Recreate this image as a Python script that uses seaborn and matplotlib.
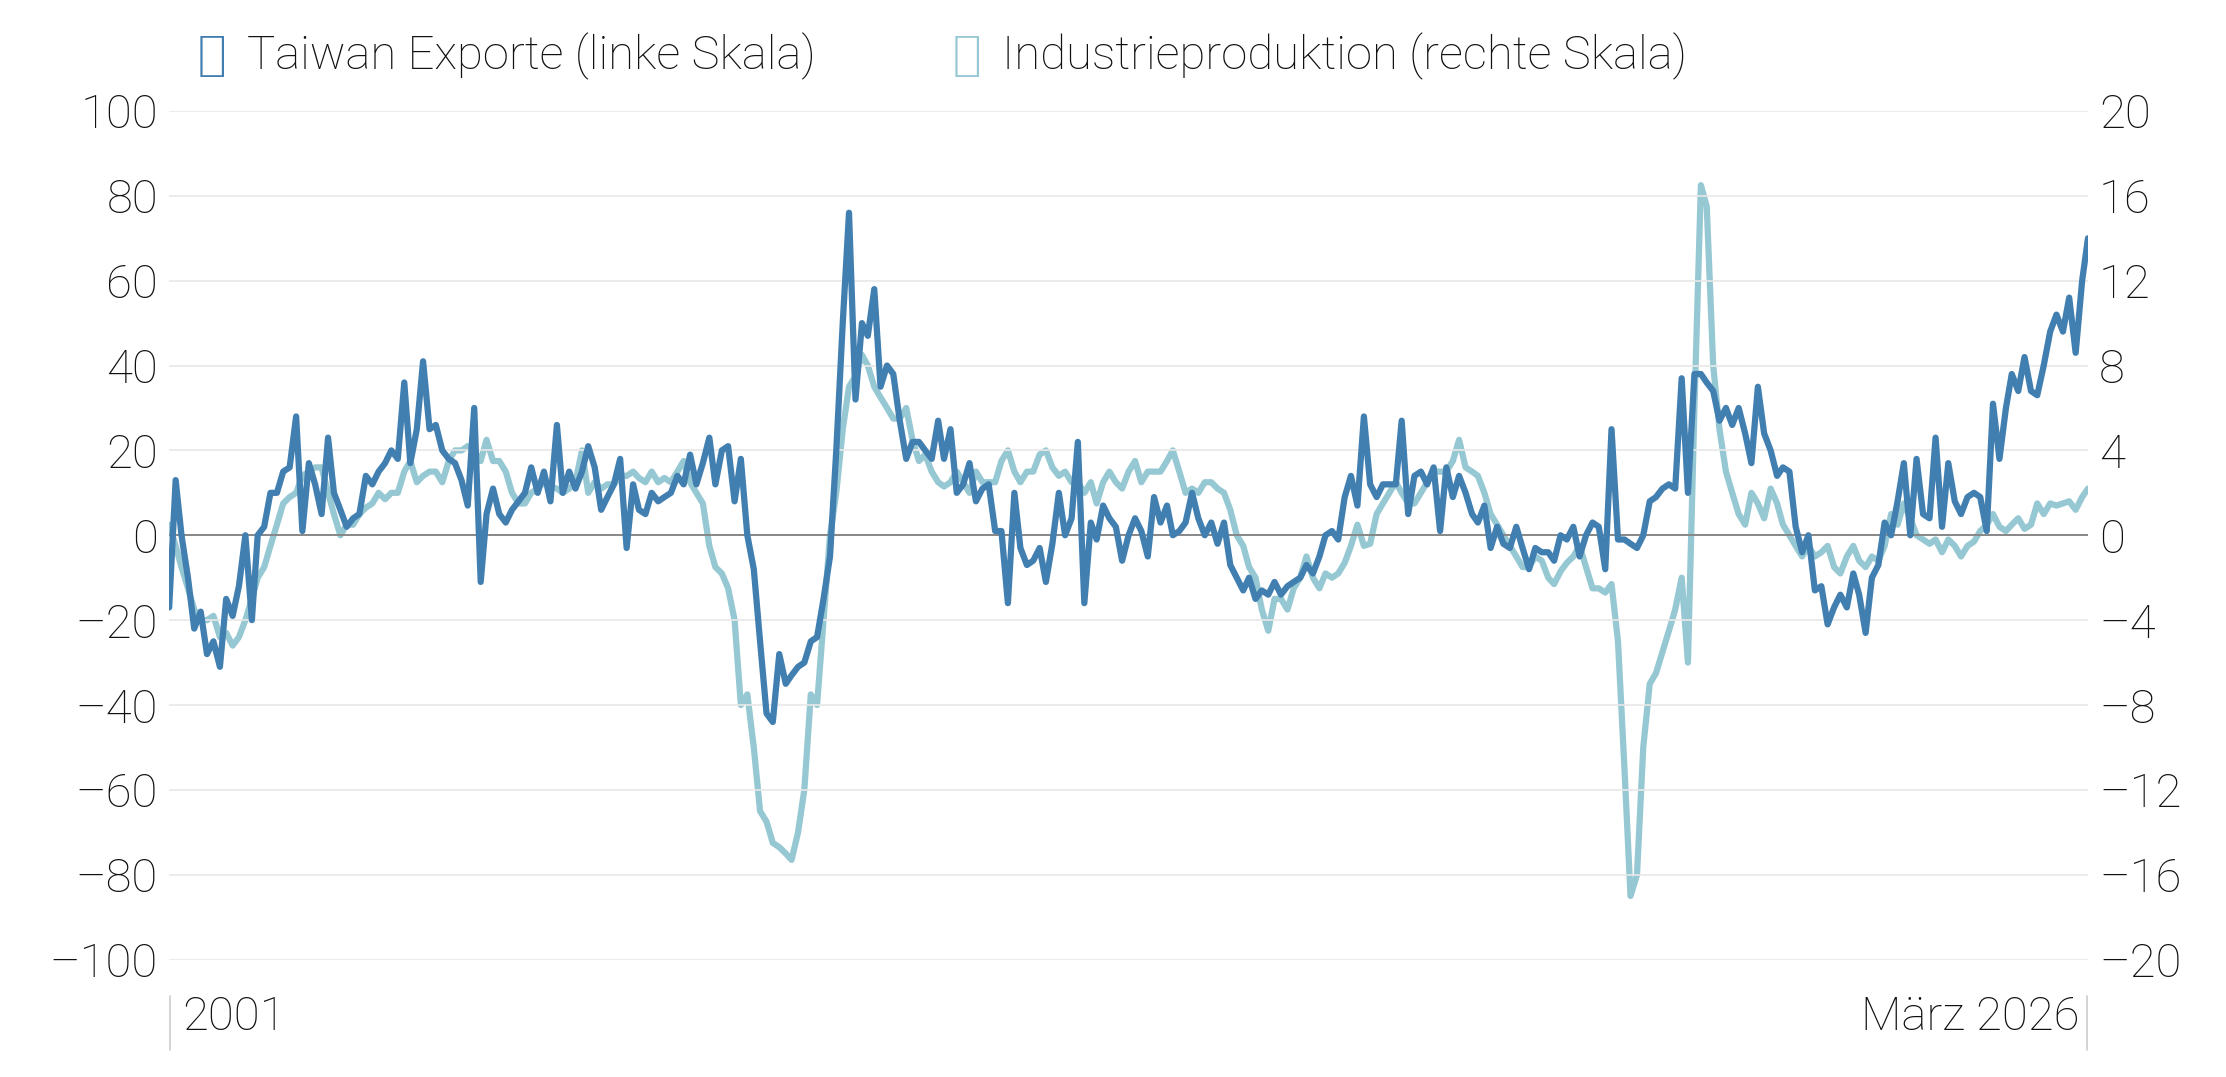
import numpy as np
import pandas as pd
import matplotlib.pyplot as plt
import seaborn as sns

# Monatswerte Jan 2001 - März 2026
exporte = [
    -17, 13, 0, -10, -22, -18, -28, -25, -31, -15, -19, -12,
    0, -20, 0, 2, 10, 10, 15, 16, 28, 1, 17, 12,
    5, 23, 10, 6, 2, 4, 5, 14, 12, 15, 17, 20,
    18, 36, 17, 25, 41, 25, 26, 20, 18, 17, 13, 7,
    30, -11, 5, 11, 5, 3, 6, 8, 10, 16, 10, 15,
    8, 26, 10, 15, 11, 15, 21, 16, 6, 9, 12, 18,
    -3, 12, 6, 5, 10, 8, 9, 10, 14, 12, 19, 12,
    17, 23, 12, 20, 21, 8, 18, 0, -8, -25, -42, -44,
    -28, -35, -33, -31, -30, -25, -24, -15, -5, 20, 50, 76,
    32, 50, 47, 58, 35, 40, 38, 27, 18, 22, 22, 20,
    18, 27, 18, 25, 10, 12, 17, 8, 11, 12, 1, 1,
    -16, 10, -3, -7, -6, -3, -11, -2, 10, 0, 4, 22,
    -16, 3, -1, 7, 4, 2, -6, 0, 4, 1, -5, 9,
    3, 7, 0, 1, 3, 10, 4, 0, 3, -2, 3, -7,
    -10, -13, -10, -15, -13, -14, -11, -14, -12, -11, -10, -7,
    -9, -5, 0, 1, -1, 9, 14, 7, 28, 12, 9, 12,
    12, 12, 27, 5, 14, 15, 12, 16, 1, 16, 9, 14,
    10, 5, 3, 7, -3, 2, -2, -3, 2, -3, -8, -3,
    -4, -4, -6, 0, -1, 2, -5, 0, 3, 2, -8, 25,
    -1, -1, -2, -3, 0, 8, 9, 11, 12, 11, 37, 10,
    38, 38, 36, 34, 27, 30, 26, 30, 24, 17, 35, 24,
    20, 14, 16, 15, 2, -4, 0, -13, -12, -21, -17, -14,
    -17, -9, -14, -23, -10, -7, 3, 0, 8, 17, 0, 18,
    5, 4, 23, 2, 17, 8, 5, 9, 10, 9, 1, 31,
    18, 30, 38, 34, 42, 34, 33, 40, 48, 52, 48, 56,
    43, 60, 70,
]

industrie = [
    0.5, -0.5, -1.5, -2.5, -3.5, -4, -4, -3.8, -4.8, -4.6, -5.2, -4.8,
    -4, -3, -2, -1.5, -0.5, 0.5, 1.5, 1.8, 2, 2.8, 3, 3.2,
    3.2, 2, 1, 0, 0.5, 0.5, 1, 1.3, 1.5, 2, 1.7, 2,
    2, 3, 3.5, 2.5, 2.8, 3, 3, 2.5, 3.5, 4, 4, 4.2,
    4, 3.5, 4.5, 3.5, 3.5, 3, 2, 1.5, 1.5, 2, 2.2, 2.5,
    2.3, 2.2, 2, 2.2, 2.5, 4, 2, 2.5, 2.2, 2.4, 2.4, 2.8,
    2.8, 3, 2.7, 2.5, 3, 2.5, 2.7, 2.5, 3, 3.5, 2.5, 2,
    1.5, -0.5, -1.5, -1.8, -2.5, -4, -8, -7.5, -10, -13, -13.5, -14.5,
    -14.7, -15, -15.3, -14, -12, -7.5, -8, -4, 0, 2, 5, 7,
    7.5, 8.5, 8, 7, 6.5, 6, 5.5, 5.5, 6, 4.5, 3.5, 3.8,
    3, 2.5, 2.3, 2.5, 3, 2.5, 2, 3, 2.5, 2.5, 2.5, 3.5,
    4, 3, 2.5, 3, 3, 3.8, 4, 3.2, 2.8, 3, 2.5, 2.5,
    2, 2.5, 1.5, 2.5, 3, 2.5, 2.2, 3, 3.5, 2.5, 3, 3,
    3, 3.5, 4, 3, 2, 2.2, 2, 2.5, 2.5, 2.2, 2, 1.2,
    0, -0.5, -1.5, -2, -3.5, -4.5, -3, -3, -3.5, -2.5, -2, -1,
    -2, -2.5, -1.8, -2, -1.8, -1.3, -0.5, 0.5, -0.5, -0.4, 1, 1.5,
    2, 2.5, 2, 1.5, 1.5, 2, 2.5, 3, 3, 3, 3.5, 4.5,
    3.2, 3, 2.8, 2, 1, 0.5, 0, -0.5, -1, -1.5, -1.5, -1,
    -1.2, -2, -2.3, -1.7, -1.3, -1, -0.5, -1.5, -2.5, -2.5, -2.7, -2.3,
    -5, -11, -17, -16, -10, -7, -6.5, -5.5, -4.5, -3.5, -2, -6,
    6, 16.5, 15.5, 8, 5, 3, 2, 1, 0.5, 2, 1.5, 0.8,
    2.2, 1.5, 0.5, 0, -0.5, -1, -0.5, -1, -0.8, -0.5, -1.5, -1.8,
    -1, -0.5, -1.2, -1.5, -1, -1.2, -0.5, 1, 0.5, 1.5, 0.8, 0,
    -0.2, -0.4, -0.2, -0.8, -0.2, -0.5, -1, -0.5, -0.3, 0.2, 0.5, 1,
    0.4, 0.2, 0.5, 0.8, 0.3, 0.5, 1.5, 1, 1.5, 1.4, 1.5, 1.6,
    1.2, 1.8, 2.2,
]

datum = pd.date_range("2001-01-01", periods=len(exporte), freq="MS")
df = pd.DataFrame({"Datum": datum, "Exporte": exporte, "IP": industrie})

dunkel = "#427fb1"
hell = "#96c8d3"
fs = 34

sns.set_style("white")
plt.rcParams["font.family"] = ["Roboto", "DejaVu Sans"]
plt.rcParams["font.weight"] = "light"
plt.rcParams["text.color"] = "#111111"

fig = plt.figure(figsize=(22.26, 10.77), dpi=100)
ax = fig.add_axes([0.076, 0.109, 0.862, 0.788])
ax2 = ax.twinx()

sns.lineplot(data=df, x="Datum", y="IP", ax=ax2, color=hell, linewidth=4.5)
sns.lineplot(data=df, x="Datum", y="Exporte", ax=ax, color=dunkel, linewidth=4.5)
ax.set_zorder(ax2.get_zorder() + 1)
ax.patch.set_visible(False)

ax.set_ylim(-100, 100)
ax.set_yticks(range(-100, 101, 20))
ax2.set_ylim(-20, 20)
ax2.set_yticks(range(-20, 21, 4))
ax.set_yticklabels([str(v).replace("-", "\u2013") for v in range(-100, 101, 20)])
ax2.set_yticklabels([str(v).replace("-", "\u2013") for v in range(-20, 21, 4)])
ax.set_xlim(df["Datum"].iloc[0], df["Datum"].iloc[-1])

for a in (ax, ax2):
    for s in a.spines.values():
        s.set_visible(False)
    a.set_xlabel("")
    a.set_ylabel("")
    a.tick_params(axis="y", length=0, labelsize=fs, pad=8, labelcolor="#111111")
ax.set_xticks([])
ax2.grid(False)
ax.grid(axis="y", color="#e8e8e8", linewidth=1.2)
ax.axhline(0, color="#777777", linewidth=1.2, zorder=1)

# Zeitachse unten
fig.text(0.082, 0.035, "2001", fontsize=fs, ha="left", va="bottom")
fig.text(0.934, 0.035, "März 2026", fontsize=fs, ha="right", va="bottom")
fig.add_artist(plt.Line2D([0.0765, 0.0765], [0.025, 0.075], color="#cccccc", lw=1.2))
fig.add_artist(plt.Line2D([0.9375, 0.9375], [0.025, 0.075], color="#cccccc", lw=1.2))

# Legende
fig.text(0.089, 0.948, "\u25a0", color=dunkel, fontsize=fs, ha="left", va="center",
         family="DejaVu Sans")
fig.text(0.111, 0.948, "Taiwan Exporte (linke Skala)", fontsize=fs, ha="left", va="center")
fig.text(0.428, 0.948, "\u25a0", color=hell, fontsize=fs, ha="left", va="center",
         family="DejaVu Sans")
fig.text(0.450, 0.948, "Industrieproduktion (rechte Skala)", fontsize=fs, ha="left", va="center")

fig.savefig("out.png", dpi=100)
